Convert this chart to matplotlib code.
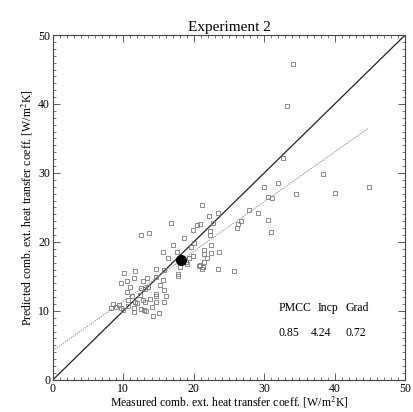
import matplotlib
matplotlib.use("Agg")
import matplotlib.pyplot as plt
from matplotlib.ticker import MultipleLocator
import numpy as np

plt.rcParams['font.family'] = ['Liberation Serif', 'DejaVu Serif']
plt.rcParams['mathtext.fontset'] = 'stix'

# Measured vs predicted combined external heat transfer coefficient [W/m^2K]
measured = [
    34.1, 33.2, 32.6, 38.4, 29.9, 31.9, 44.8, 30.6, 31.1, 34.5, 40.1, 27.9,
    29.1, 26.7, 26.3, 26.2, 30.5, 30.9, 25.7,
    21.2, 22.2, 23.5, 16.8, 20.9, 20.4, 22.7, 12.5, 13.7, 19.9, 22.3, 22.3,
    18.6, 20.1, 17.1, 22.5, 19.6, 21.4, 23.6, 22.4, 15.6, 17.6, 21.4, 16.4,
    21.9, 19.9, 19.3, 19.0, 20.7, 21.1, 23.4, 14.6, 15.8, 17.7, 17.8, 10.1,
    11.6, 13.4, 14.6, 15.7, 10.5, 11.5, 9.7, 12.8, 15.2, 11.0, 12.5, 13.1,
    13.5, 15.8, 10.5, 12.4, 14.7, 14.7, 11.3, 16.0, 13.8, 12.8, 13.1, 14.7,
    15.8, 10.7, 11.7, 11.9, 8.6, 9.4, 9.0, 9.6, 9.9, 8.3, 10.7, 11.5, 11.5,
    12.5, 13.0, 13.2, 14.1, 15.0, 14.2,
    18.9, 21.5, 20.9, 21.3, 18.1,
]
predicted = [
    45.8, 39.7, 32.1, 29.8, 27.9, 28.6, 27.9, 26.5, 26.4, 26.9, 27.1, 24.7,
    24.2, 23.1, 22.6, 22.0, 23.2, 21.4, 15.8,
    25.3, 23.8, 24.2, 22.7, 22.6, 22.4, 22.7, 21.0, 21.3, 21.7, 21.6, 21.0,
    20.6, 19.9, 19.5, 19.5, 19.3, 18.8, 18.6, 18.4, 18.6, 18.6, 18.2, 17.7,
    17.6, 18.0, 17.6, 16.8, 16.5, 16.1, 16.1, 16.1, 15.9, 15.3, 15.1, 15.5,
    15.8, 14.8, 14.9, 14.5, 14.4, 14.7, 14.0, 14.4, 13.7, 13.5, 13.3, 13.2,
    13.5, 13.0, 12.8, 12.3, 12.4, 12.1, 12.2, 12.2, 11.7, 11.6, 11.3, 11.3,
    11.3, 11.6, 11.3, 11.1, 11.0, 10.9, 10.6, 10.4, 10.2, 10.4, 10.7, 10.4, 9.9,
    10.3, 10.2, 10.0, 10.6, 9.7, 9.3,
    17.1, 17.1, 16.7, 16.3, 16.4,
]

# Summary statistics
pmcc = 0.85
intercept = 4.24
gradient = 0.72
mean_measured = 18.2
mean_predicted = 17.35

stat_headers = ["PMCC", "Incp", "Grad"]
stat_values = [pmcc, intercept, gradient]

fig = plt.figure(figsize=(4.13, 4.12), dpi=100)
ax = fig.add_axes([0.128, 0.078, 0.853, 0.837])

ax.set_xlim(0, 50)
ax.set_ylim(0, 50)

# 1:1 reference line
ax.plot([0, 50], [0, 50], color='#222222', lw=0.9)

# Least-squares fit line
xfit = np.array([0, max(measured)])
ax.plot(xfit, intercept + gradient * xfit, color='#888888', lw=0.8,
        linestyle=(0, (1, 1.2)))

ax.plot(measured, predicted, linestyle='none', marker='s', markersize=3.4,
        markerfacecolor='none', markeredgecolor='#7a7a7a', markeredgewidth=0.6)

ax.plot([mean_measured], [mean_predicted], marker='o', markersize=7,
        color='black', linestyle='none')

# Statistics table
col_x_head = [32.0, 37.6, 41.6]
col_x_val = [32.0, 36.6, 41.6]
for hx, h in zip(col_x_head, stat_headers):
    ax.text(hx, 10.4, h, ha='left', va='center', fontsize=8.5)
for vx, v in zip(col_x_val, stat_values):
    ax.text(vx, 6.8, f"{v:.2f}", ha='left', va='center', fontsize=8.5)

ax.set_title("Experiment 2", fontsize=11, pad=3)
ax.set_xlabel("Measured comb. ext. heat transfer coeff. [W/m$^2$K]",
              fontsize=8.5, labelpad=0)
ax.set_ylabel("Predicted comb. ext. heat transfer coeff. [W/m$^2$K]",
              fontsize=8.5, labelpad=2)

ax.xaxis.set_major_locator(MultipleLocator(10))
ax.yaxis.set_major_locator(MultipleLocator(10))
ax.xaxis.set_minor_locator(MultipleLocator(1))
ax.yaxis.set_minor_locator(MultipleLocator(1))
ax.tick_params(which='both', direction='in', top=True, right=True,
               color='#444444', labelsize=8.5, pad=2)
ax.tick_params(which='major', length=5, width=0.6)
ax.tick_params(which='minor', length=2.5, width=0.5)
for s in ax.spines.values():
    s.set_color('#444444')
    s.set_linewidth(0.8)

fig.savefig("out.png", dpi=100)
